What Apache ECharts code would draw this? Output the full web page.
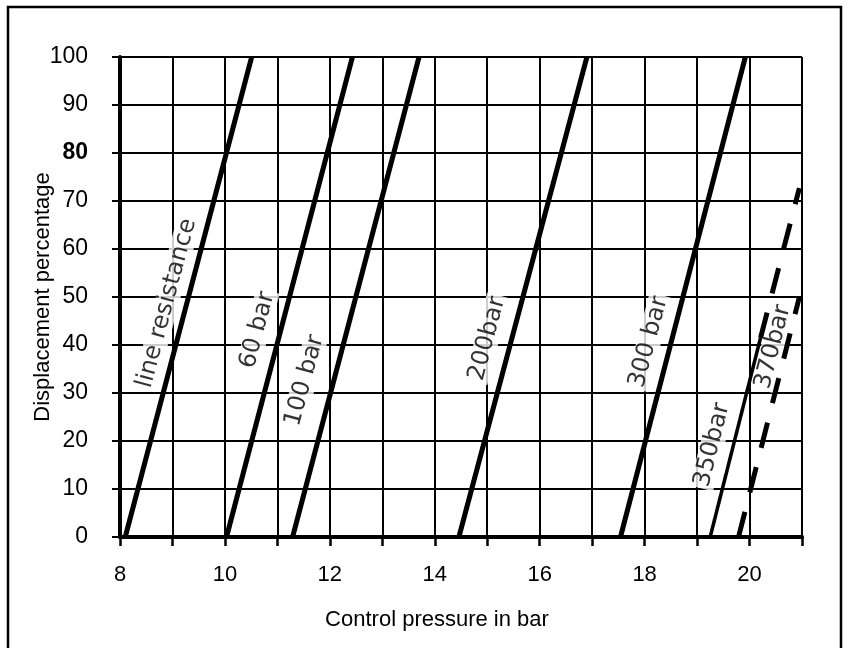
<!DOCTYPE html>
<html>
<head>
<meta charset="utf-8">
<script src="https://cdn.jsdelivr.net/npm/echarts@6/dist/echarts.min.js"></script>
<style>html,body{margin:0;padding:0;background:#fff;}#c{width:852px;height:648px;}</style>
</head>
<body>
<div id="c"></div>
<script>
// ---- data ----
const xTicks = [8, 10, 12, 14, 16, 18, 20];
const yTicks = [0, 10, 20, 30, 40, 50, 60, 70, 80, 90, 100];
const lineResistance = [[8.10, 0], [10.51, 100]];
const bar60 = [[10.03, 0], [12.43, 100]];
const bar100 = [[11.29, 0], [13.70, 100]];
const bar200 = [[14.46, 0], [16.90, 100]];
const bar300 = [[17.54, 0], [19.92, 100]];
const bar350 = [[19.25, 0], [20.21, 41.5]];
const bar350Ext = [[20.21, 41.5], [20.95, 72.7]];
const bar370 = [[19.79, 0], [20.95, 50]];
const labelNames = ['line resistance', '60 bar', '100 bar', '200bar', '300 bar', '350bar', '370bar'];
const labelPos = [[8.89, 48.7], [10.62, 43.1], [11.52, 32.6], [15.0, 41.3], [18.08, 40.6], [19.29, 19.2], [20.45, 39.6]];
const labelRot = [75, 75, 75, 75, 75, 76, 76];

const chart = echarts.init(document.getElementById('c'), null, {renderer: 'canvas'});
const tickFont = 'Liberation Sans Narrow, Liberation Sans, Arial, sans-serif';
const lineSeries = (data, width, dashed) => ({
  type: 'line', data: data, symbol: 'none', silent: true,
  lineStyle: {color: '#000', width: width, type: dashed ? [26, 20] : 'solid', cap: 'butt'}
});

chart.setOption({
  animation: false,
  backgroundColor: '#fff',
  grid: {left: 120, right: 50, top: 57, bottom: 111},
  graphic: [{
    type: 'rect', shape: {x: 8, y: 7, width: 833, height: 700},
    style: {fill: 'none', stroke: '#000', lineWidth: 2.5}, silent: true
  }],
  xAxis: {
    type: 'value', min: 8, max: 21, interval: 1,
    name: 'Control pressure in bar', nameLocation: 'middle', nameGap: 72,
    nameTextStyle: {fontFamily: 'Liberation Sans, Arial, sans-serif', fontSize: 22, color: '#000', padding: [0, 48, 0, 0]},
    axisLine: {show: true, onZero: false, lineStyle: {color: '#000', width: 4}},
    axisTick: {show: true, length: 9, lineStyle: {color: '#000', width: 2.5}},
    axisLabel: {
      margin: 27, fontFamily: tickFont, fontSize: 22, color: '#000',
      formatter: v => (xTicks.indexOf(v) >= 0 ? String(v) : '')
    },
    splitLine: {show: true, lineStyle: {color: '#000', width: 2}}
  },
  yAxis: {
    type: 'value', min: 0, max: 100, interval: 10,
    name: 'Displacement percentage', nameLocation: 'middle', nameGap: 66,
    nameMoveOverlap: false,
    nameTextStyle: {fontFamily: 'Liberation Sans, Arial, sans-serif', fontSize: 22, color: '#000'},
    axisLine: {show: true, lineStyle: {color: '#000', width: 4}},
    axisTick: {show: true, length: 8, lineStyle: {color: '#000', width: 2}},
    axisLabel: {
      margin: 32, fontFamily: tickFont, fontSize: 23, color: '#000',
      formatter: v => (yTicks.indexOf(v) >= 0 ? (v === 80 ? '{b|80}' : String(v)) : ''),
      rich: {b: {fontFamily: tickFont, fontSize: 23, fontWeight: 'bold', color: '#000'}}
    },
    splitLine: {show: true, lineStyle: {color: '#000', width: 2}}
  },
  series: [
    lineSeries(lineResistance, 5, false),
    lineSeries(bar60, 5, false),
    lineSeries(bar100, 5, false),
    lineSeries(bar200, 5, false),
    lineSeries(bar300, 5, false),
    lineSeries(bar350, 3.5, false),
    lineSeries(bar350Ext, 5, true),
    lineSeries(bar370, 5, true),
    {
      type: 'scatter', symbolSize: 0, silent: true,
      data: labelPos.map((p, i) => ({
        value: p, name: labelNames[i],
        label: {rotate: labelRot[i]}
      })),
      label: {
        show: true, position: 'inside', formatter: p => p.name,
        fontFamily: 'DejaVu Sans, sans-serif', fontSize: 24, color: '#000',
        textBorderWidth: 0, textBorderColor: 'transparent',
        backgroundColor: '#fff', padding: [0, 2]
      }
    }
  ]
});
</script>
</body>
</html>
